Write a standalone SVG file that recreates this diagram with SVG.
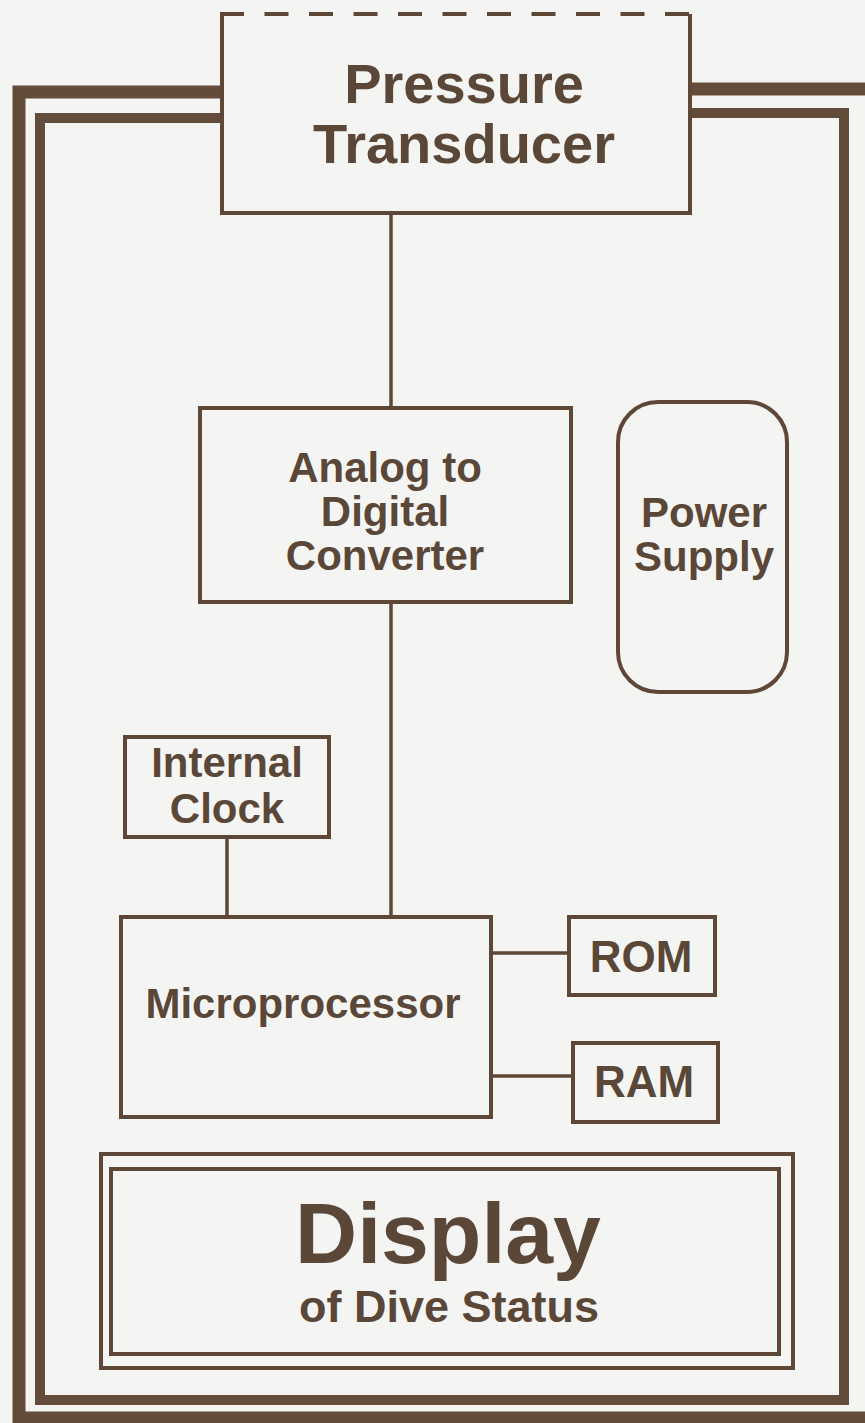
<svg xmlns="http://www.w3.org/2000/svg" width="865" height="1423" viewBox="0 0 865 1423">
<style>
.bx{fill:none;stroke:#5e4736;stroke-width:4}
.ln{fill:none;stroke:#5e4736;stroke-width:3.5}
.fr{fill:none;stroke:#644c3a}
text{font-family:"Liberation Sans",Arial,Helvetica,sans-serif;font-weight:bold;fill:#5a4738;text-anchor:middle}
.t42{font-size:42px}
.t44{font-size:44px}
.t56{font-size:56px}
</style>
<rect width="865" height="1423" fill="#f4f5f3"/>
<g id="frame">
<path class="fr" stroke-width="13" d="M222,92 L19,92 L19,1418 L872,1418 L872,89 L690,89"/>
<path class="fr" stroke-width="10" d="M222,118 L40,118 L40,1400 L844,1400 L844,113 L690,113"/>
</g>
<g id="connectors">
<line class="ln" x1="391" y1="213" x2="391" y2="408"/>
<line class="ln" x1="391" y1="602" x2="391" y2="917"/>
<line class="ln" x1="227" y1="837" x2="227" y2="917"/>
<line class="ln" x1="491" y1="953" x2="569" y2="953"/>
<line class="ln" x1="491" y1="1076" x2="573" y2="1076"/>
</g>
<g id="pressure-transducer">
<rect x="222" y="14" width="468" height="199" fill="#f4f5f3" stroke="none"/>
<path class="bx" d="M222,14 L222,213 L690,213 L690,14"/>
<line x1="220" y1="14" x2="692" y2="14" stroke="#5e4736" stroke-width="4" stroke-dasharray="24,20.5"/>
<text class="t56" x="464" y="103">Pressure</text>
<text class="t56" x="464" y="163">Transducer</text>
</g>
<g id="adc">
<rect class="bx" x="200" y="408" width="371" height="194"/>
<text class="t42" x="385" y="482">Analog to</text>
<text class="t42" x="385" y="526">Digital</text>
<text class="t42" x="385" y="570">Converter</text>
</g>
<g id="power-supply">
<rect class="bx" x="618" y="402" width="169" height="290" rx="40" ry="40"/>
<text class="t42" x="704" y="527">Power</text>
<text class="t42" x="704" y="571">Supply</text>
</g>
<g id="internal-clock">
<rect class="bx" x="125" y="737" width="204" height="100"/>
<text class="t42" x="227" y="777">Internal</text>
<text class="t42" x="227" y="823">Clock</text>
</g>
<g id="microprocessor">
<rect class="bx" x="121" y="917" width="370" height="200"/>
<text class="t42" x="303" y="1018">Microprocessor</text>
</g>
<g id="rom">
<rect class="bx" x="569" y="917" width="146" height="78"/>
<text class="t44" x="641" y="972">ROM</text>
</g>
<g id="ram">
<rect class="bx" x="573" y="1043" width="145" height="79"/>
<text class="t44" x="644" y="1097">RAM</text>
</g>
<g id="display">
<rect class="bx" x="101" y="1154" width="692" height="214"/>
<rect class="bx" x="111" y="1169" width="668" height="185"/>
<text x="448" y="1263" font-size="86">Display</text>
<text x="449" y="1322" font-size="45">of Dive Status</text>
</g>
</svg>
